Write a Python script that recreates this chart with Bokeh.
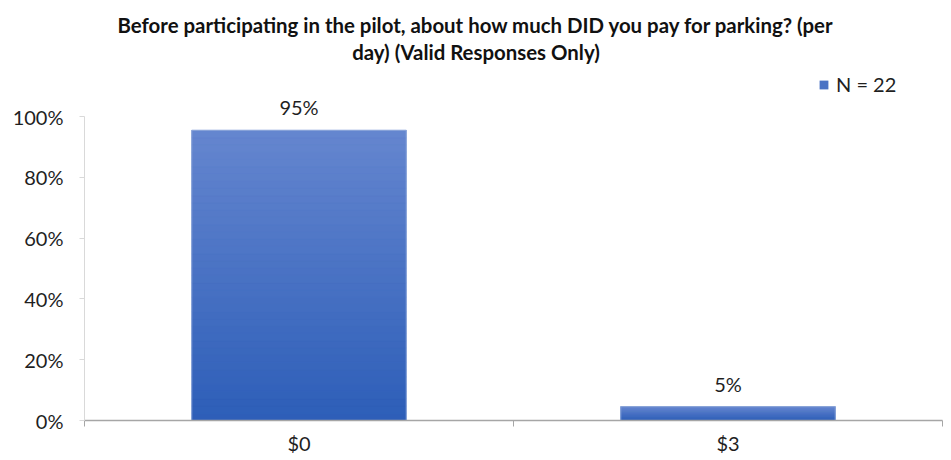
import numpy as np
from bokeh.plotting import figure
from bokeh.models import (FixedTicker, Legend, LegendItem, Range1d,
                          PrintfTickFormatter, Label)
from bokeh.embed import file_html
from bokeh.resources import INLINE
from bokeh.core.properties import value

# ---- data ----
categories = ["$0", "$3"]
percentages = [95.45, 4.55]
series_name = "N = 22"
y_ticks = [0, 20, 40, 60, 80, 100]
title_lines = ["Before participating in the pilot, about how much DID you pay for parking? (per",
               "day) (Valid Responses Only)"]

FONT = "Lato"
TXT = "#1f1f1f"

# layout (pixels); the frame starts at the top of the canvas
W, H = 951, 460
LEFT, RIGHT, BOTTOM = 84, 9, 40
FB = H - BOTTOM          # frame bottom = 0% line
PX100 = 116.0            # where the 100% line sits
YMAX = 100 * FB / (FB - PX100)

p = figure(width=W, height=H, output_backend="svg", toolbar_location=None,
           title=None,
           x_range=Range1d(0, len(categories)), y_range=Range1d(0, YMAX),
           min_border_left=LEFT, min_border_right=RIGHT, min_border_top=0,
           min_border_bottom=BOTTOM)

xs = [i + 0.5 for i in range(len(categories))]
BW = 0.5

# base bars (also legend glyph)
base = p.vbar(x=xs, top=percentages, bottom=0, width=BW,
              fill_color="#4a72c4", line_color=None)

# vertical gradient per bar
top_c = np.array([0x65, 0x86, 0xcf], dtype=float)
bot_c = np.array([0x2d, 0x5e, 0xb8], dtype=float)
n = 40
sx, sb, st, sc = [], [], [], []
for x, v in zip(xs, percentages):
    for k in range(n):
        f = (k + 0.5) / n
        c = bot_c + (top_c - bot_c) * f
        sx.append(x)
        sb.append(v * k / n)
        st.append(v * (k + 1) / n)
        sc.append("#%02x%02x%02x" % tuple(int(round(t)) for t in c))
p.vbar(x=sx, bottom=sb, top=st, width=BW, fill_color=sc, line_color=sc,
       line_width=0.6)
p.vbar(x=xs, top=percentages, bottom=0, width=BW, fill_color=None,
       line_color="#8fa8da", line_width=1)

# data labels
p.text(x=xs, y=percentages, text=[f"{round(v)}%" for v in percentages],
       text_align="center", text_baseline="alphabetic", y_offset=-23,
       text_font=value(FONT), text_font_size="20px", text_color=TXT)

# title (two centred lines)
for i, line in enumerate(title_lines):
    p.add_layout(Label(x=W / 2 - LEFT, y=FB - 24 - 27 * i, x_units="screen",
                       y_units="screen", text=line, text_align="center",
                       text_baseline="middle", text_font=FONT,
                       text_font_size="20.4px", text_font_style="bold",
                       text_color="#111111"))

# legend
legend = Legend(items=[LegendItem(label=series_name, renderers=[base])],
                location=(734, FB - 84 - 12), glyph_width=11, glyph_height=11,
                padding=0, margin=0, spacing=0, label_standoff=7,
                border_line_color=None, background_fill_alpha=0,
                label_text_font=FONT, label_text_font_size="20px",
                label_text_color=TXT)
p.add_layout(legend)

# x axis
xa = p.xaxis[0]
xa.ticker = FixedTicker(ticks=xs, minor_ticks=list(range(len(categories) + 1)))
xa.major_label_overrides = {x: c for x, c in zip(xs, categories)}
xa.major_tick_line_color = None
xa.major_tick_out = 6
xa.major_tick_in = 0
xa.minor_tick_line_color = "#a6a6a6"
xa.minor_tick_out = 6
xa.minor_tick_in = 0
xa.axis_line_color = "#a6a6a6"
xa.axis_line_width = 1.5
xa.major_label_standoff = 4
xa.major_label_text_font = FONT
xa.major_label_text_font_size = "20px"
xa.major_label_text_color = TXT

# y axis
ya = p.yaxis[0]
ya.bounds = (0, 100)
ya.ticker = FixedTicker(ticks=y_ticks, minor_ticks=[])
ya.formatter = PrintfTickFormatter(format="%d%%")
ya.axis_line_color = "#d9d9d9"
ya.major_tick_line_color = "#d9d9d9"
ya.major_tick_out = 5
ya.major_tick_in = 0
ya.minor_tick_line_color = None
ya.major_label_standoff = 16
ya.major_label_text_font = FONT
ya.major_label_text_font_size = "20px"
ya.major_label_text_color = TXT

p.xgrid.grid_line_color = None
p.ygrid.grid_line_color = None
p.outline_line_color = None
p.background_fill_color = "white"
p.border_fill_color = "white"

open("out.html", "w").write(file_html(p, INLINE))
